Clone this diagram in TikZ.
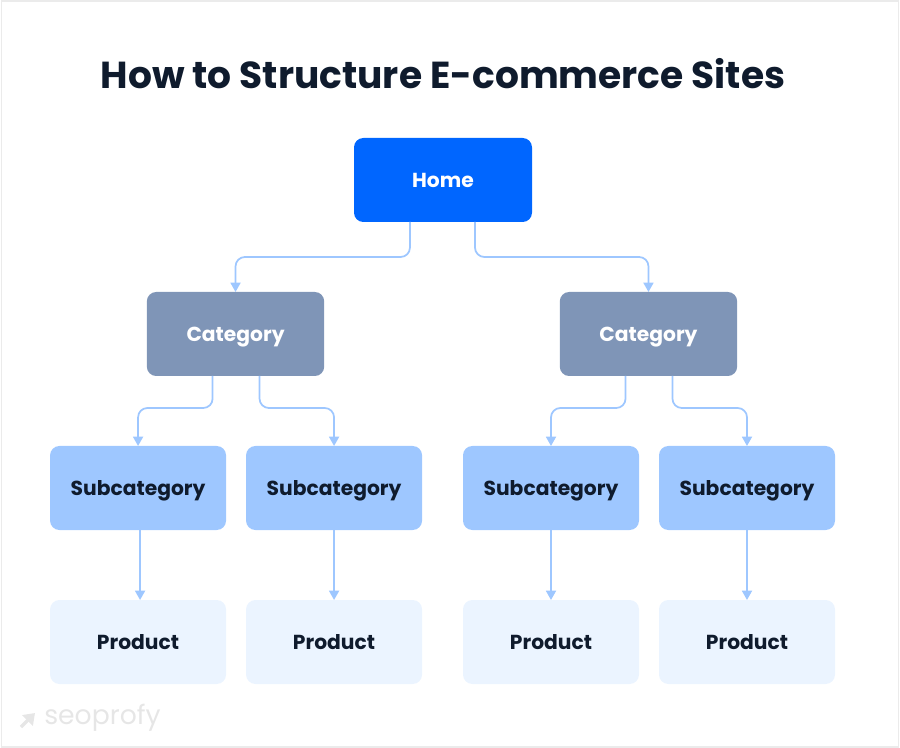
\documentclass[tikz,border=0pt]{standalone}
\usepackage{fontspec}
\setmainfont{Poppins}
\usepackage{xcolor}
\usetikzlibrary{arrows.meta,positioning,calc}
\definecolor{homeblue}{HTML}{0066FF}
\definecolor{catslate}{HTML}{7F95B7}
\definecolor{subblue}{HTML}{9EC7FF}
\definecolor{prodblue}{HTML}{EBF4FF}
\definecolor{inkdark}{HTML}{0F1B2D}
\definecolor{logogray}{HTML}{E6E6E6}
\begin{document}
\begin{tikzpicture}[
  x=0.75pt, y=-0.75pt,
  node distance=52.5pt and 15pt,
  box/.style={rectangle, rounded corners=7pt, minimum width=132pt, minimum height=63pt,
              align=center, font=\fontsize{15.2}{18}\selectfont\bfseries, inner sep=0pt,
              outer sep=0pt, text height=12.5pt, text depth=1pt},
  homebox/.style={box, fill=homeblue, text=white, minimum width=133.5pt},
  catbox/.style={box, fill=catslate, text=white, minimum width=133pt},
  subbox/.style={box, fill=subblue, text=inkdark},
  prodbox/.style={box, fill=prodblue, text=inkdark},
  link/.style={-{Triangle[width=7.5pt,length=7pt]}, draw=subblue, line width=1.3pt, rounded corners=7pt}
]
  \node[draw=black!8, line width=1pt, minimum width=673pt, minimum height=559.5pt, inner sep=0pt] (frame) at (450,374) {};
  \useasboundingbox (0,0) rectangle (900,748);

  \node[font=\fontsize{28.2}{34}\selectfont\bfseries, text=inkdark] (title) at (443,73.5) {How to Structure E-commerce Sites};

  \node[homebox] (home) at (443,180) {Home};
  \node[catbox, below=of home, xshift=-155.6pt] (catl) {Category};
  \node[catbox, below=of home, xshift=154.1pt] (catr) {Category};

  \node[subbox, below=of catl, xshift=-73.1pt] (subla) {Subcategory};
  \node[subbox, right=of subla] (sublb) {Subcategory};
  \node[subbox, below=of catr, xshift=-73.1pt] (subra) {Subcategory};
  \node[subbox, right=of subra] (subrb) {Subcategory};

  \node[prodbox, below=of subla] (prodla) {Product};
  \node[prodbox, below=of sublb] (prodlb) {Product};
  \node[prodbox, below=of subra] (prodra) {Product};
  \node[prodbox, below=of subrb] (prodrb) {Product};

  \draw[link] ([xshift=-24.8pt]home.south) -- ++(0,35) -| (catl.north);
  \draw[link] ([xshift=24pt]home.south) -- ++(0,35) -| (catr.north);
  \draw[link] ([xshift=-17.2pt]catl.south) -- ++(0,32) -| (subla.north);
  \draw[link] ([xshift=18pt]catl.south) -- ++(0,32) -| (sublb.north);
  \draw[link] ([xshift=-17.2pt]catr.south) -- ++(0,32) -| (subra.north);
  \draw[link] ([xshift=18pt]catr.south) -- ++(0,32) -| (subrb.north);

  \draw[link] ([xshift=1.5pt]subla.south) -- ([xshift=1.5pt]prodla.north);
  \draw[link] (sublb) -- (prodlb);
  \draw[link] (subra) -- (prodra);
  \draw[link] (subrb) -- (prodrb);

  % logo
  \coordinate (logofoot) at (21,727);
  \coordinate (logotip) at (35,713);
  \draw[-{Triangle[width=11pt,length=8pt]}, draw=logogray, fill=logogray, line width=2.6pt] (logofoot) -- (logotip);
  \node[font=\fontsize{20}{24}\selectfont, text=logogray, anchor=west, inner sep=0pt] (logo) at (44,718) {seoprofy};
\end{tikzpicture}
\end{document}
